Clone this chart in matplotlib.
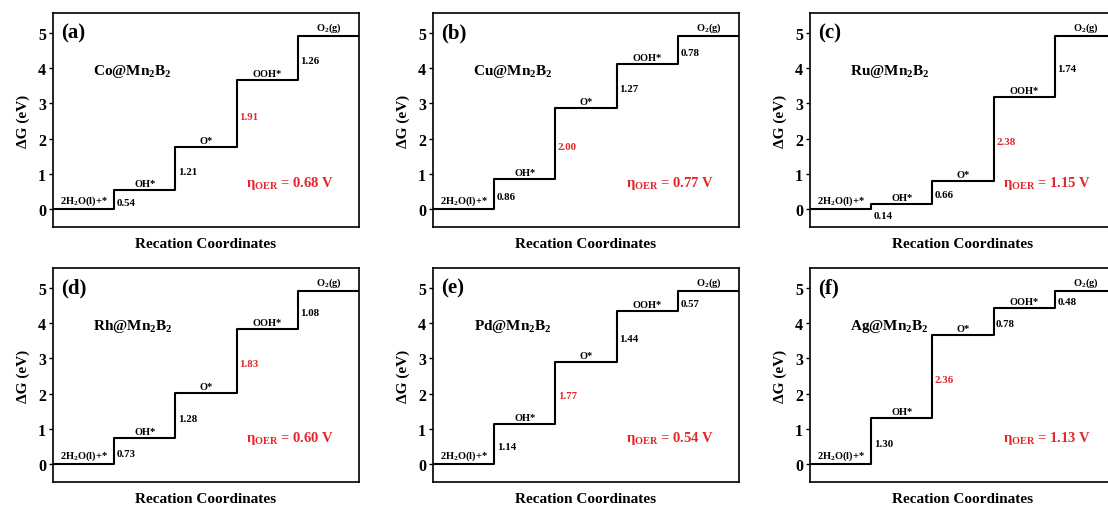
import numpy as np
import matplotlib
matplotlib.use('Agg')
import matplotlib.pyplot as plt

plt.rcParams['font.family'] = 'Liberation Serif'
plt.rcParams['font.weight'] = 'bold'
plt.rcParams['mathtext.fontset'] = 'custom'
plt.rcParams['mathtext.rm'] = 'Liberation Serif:bold'
plt.rcParams['mathtext.it'] = 'Liberation Serif:bold'
plt.rcParams['mathtext.bf'] = 'Liberation Serif:bold'

# data: step free energies (eV) for each catalyst
panels = ['(a)', '(b)', '(c)', '(d)', '(e)', '(f)']
catalysts = ['Co', 'Cu', 'Ru', 'Rh', 'Pd', 'Ag']
steps_co = [0.54, 1.21, 1.91, 1.26]
steps_cu = [0.86, 2.00, 1.27, 0.78]
steps_ru = [0.14, 0.66, 2.38, 1.74]
steps_rh = [0.73, 1.28, 1.83, 1.08]
steps_pd = [1.14, 1.77, 1.44, 0.57]
steps_ag = [1.30, 2.36, 0.78, 0.48]
all_steps = [steps_co, steps_cu, steps_ru, steps_rh, steps_pd, steps_ag]
eta = [0.68, 0.77, 1.15, 0.60, 0.54, 1.13]
species = ['2H$_2$O(l)+*', 'OH*', 'O*', 'OOH*', 'O$_2$(g)']

red = '#e3262c'
W, H = 1108, 506
fig = plt.figure(figsize=(W / 100, H / 100), dpi=100)

lefts = [53, 433, 810]
tops = [14, 269]
aw, ah = 306, 214

for k in range(6):
    r, c = divmod(k, 3)
    ax = fig.add_axes([lefts[c] / W, 1 - (tops[r] + ah) / H, aw / W, ah / H])
    st = all_steps[k]
    levels = np.concatenate([[0], np.cumsum(st)])
    x = np.arange(6)
    ax.step(x, np.append(levels, levels[-1]), where='post', color='black', lw=1.5)

    big = int(np.argmax(st))
    for i, s in enumerate(st):
        lo, hi = levels[i], levels[i + 1]
        col = red if i == big else 'black'
        if s < 0.3:
            ax.text(i + 1 + 0.04, lo - 0.06, '%.2f' % s, ha='left', va='top',
                    fontsize=7.8, color=col)
        else:
            ax.text(i + 1 + 0.04, (lo + hi) / 2 - 0.07, '%.2f' % s, ha='left',
                    va='center', fontsize=7.8, color=col)
    for i, sp in enumerate(species):
        ax.text(i + 0.5, levels[i] + 0.06, sp, ha='center', va='bottom', fontsize=7.5)

    ax.text(0.13, 5.02, panels[k], ha='left', va='center', fontsize=15)
    ax.text(1.3, 3.95, catalysts[k] + '@Mn$_2$B$_2$', ha='center', va='center', fontsize=11)
    ax.text(3.88, 0.75, r'$\eta_{\mathrm{OER}}$ = %.2f V' % eta[k], ha='center',
            va='center', fontsize=10.5, color=red)

    ax.set_xlim(0, 5)
    ax.set_ylim(-0.51, 5.57)
    ax.set_xticks([])
    ax.set_yticks(range(6))
    ax.tick_params(axis='y', labelsize=11.5, length=3, width=1, direction='out', pad=2)
    for sp in ax.spines.values():
        sp.set_linewidth(1.2)
    ax.set_ylabel('ΔG (eV)', fontsize=11, fontweight='bold', labelpad=6)
    ax.set_xlabel('Recation Coordinates', fontsize=11, fontweight='bold', labelpad=7)

fig.savefig('out.png', dpi=100)
